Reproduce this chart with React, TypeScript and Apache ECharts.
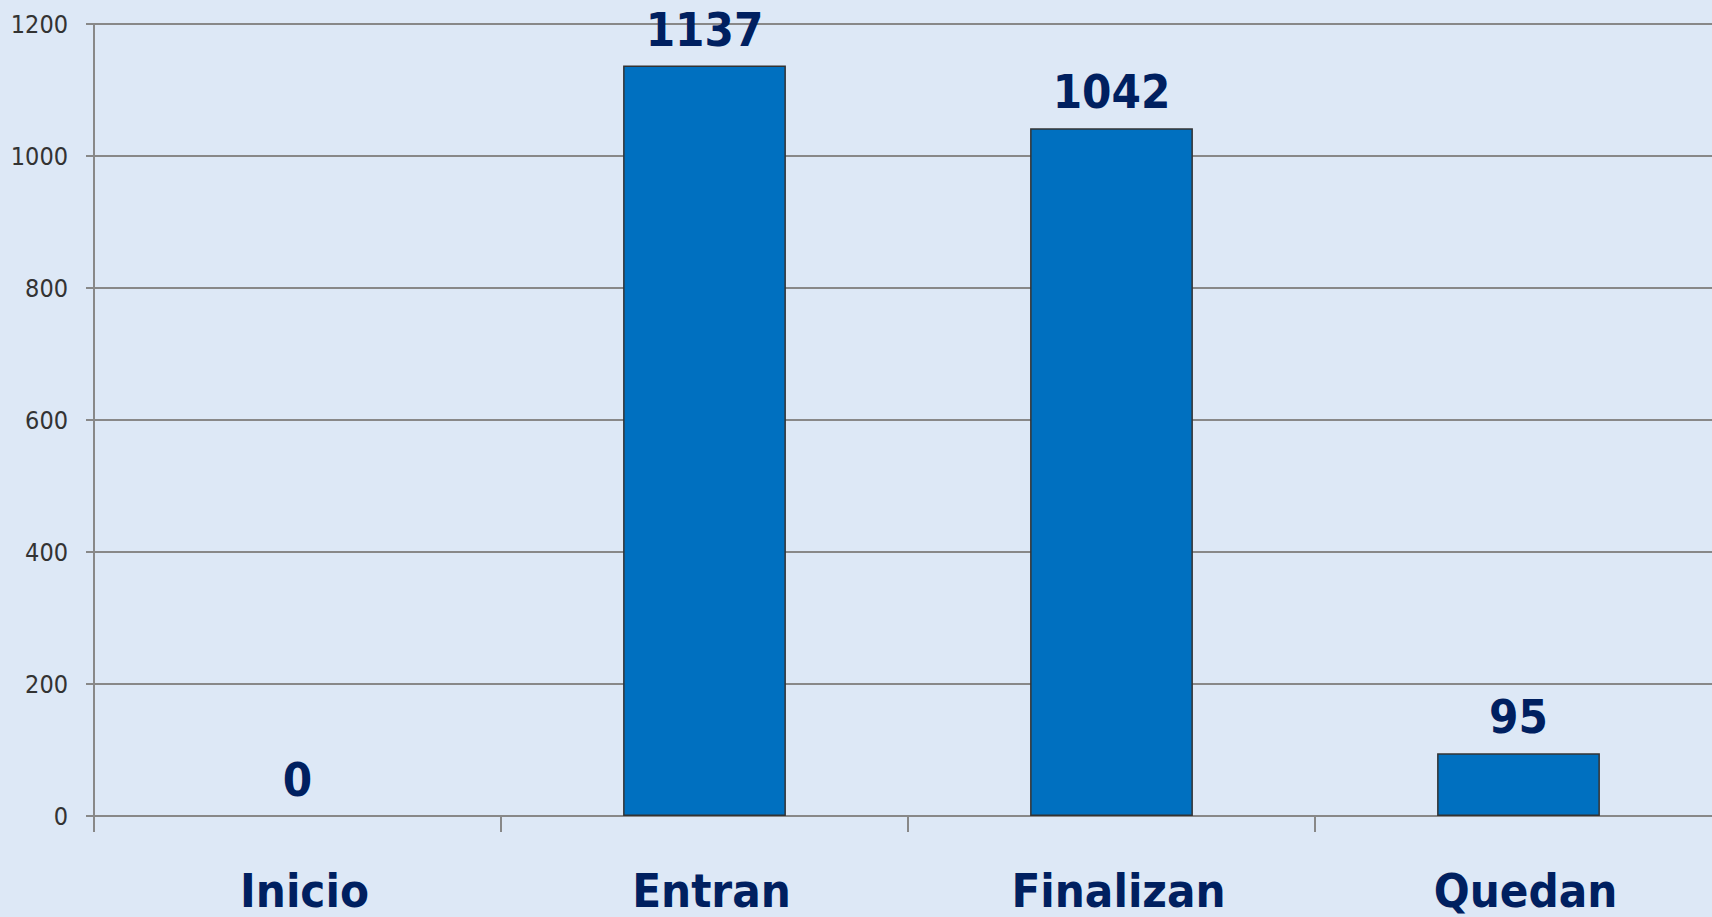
import React, { useEffect, useRef } from "react";
import * as echarts from "echarts";

const categories = ["Inicio", "Entran", "Finalizan", "Quedan"];
const values = [0, 1137, 1042, 95];
const yTicks = [0, 200, 400, 600, 800, 1000, 1200];

const FONT = "'DejaVu Sans Condensed', 'DejaVu Sans', sans-serif";

export default function App() {
  const ref = useRef<HTMLDivElement>(null);
  useEffect(() => {
    document.body.style.margin = "0";
    const chart = echarts.init(ref.current!, null, { renderer: "svg" });
    chart.setOption({
      animation: false,
      backgroundColor: "#dde8f6",
      grid: { left: 94, top: 24, width: 1628, height: 792, containLabel: false },
      xAxis: {
        type: "category",
        data: categories,
        axisLine: { lineStyle: { color: "#888888", width: 2 } },
        axisTick: { show: true, length: 16, lineStyle: { color: "#888888", width: 2 } },
        axisLabel: {
          fontFamily: FONT,
          fontWeight: "bold",
          fontSize: 47,
          lineHeight: 47,
          color: "#002060",
          margin: 51,
          padding: [0, 0, 0, 14],
        },
      },
      yAxis: {
        type: "value",
        min: yTicks[0],
        max: yTicks[yTicks.length - 1],
        interval: 200,
        axisLine: { show: true, lineStyle: { color: "#888888", width: 2 } },
        axisTick: { show: true, length: 8, lineStyle: { color: "#888888", width: 2 } },
        splitLine: { lineStyle: { color: "#888888", width: 2 } },
        axisLabel: {
          fontFamily: FONT,
          fontSize: 25,
          color: "#333333",
          margin: 26,
          formatter: (v: number) => String(v),
        },
      },
      series: [
        {
          type: "bar",
          data: values.map((v) =>
            v === 0 ? { value: v, itemStyle: { borderWidth: 0 } } : v
          ),
          barWidth: "40%",
          itemStyle: { color: "#0070c0", borderColor: "#333333", borderWidth: 1.5 },
          label: {
            show: true,
            position: "top",
            distance: 13,
            fontFamily: FONT,
            fontWeight: "bold",
            fontSize: 47,
            lineHeight: 47,
            color: "#002060",
          },
        },
      ],
    });
    return () => chart.dispose();
  }, []);
  return (
    <div
      style={{
        position: "fixed",
        left: 0,
        top: 0,
        width: 1712,
        height: 917,
        overflow: "hidden",
        background: "#dde8f6",
      }}
    >
      <div ref={ref} style={{ width: 1740, height: 917 }} />
    </div>
  );
}
